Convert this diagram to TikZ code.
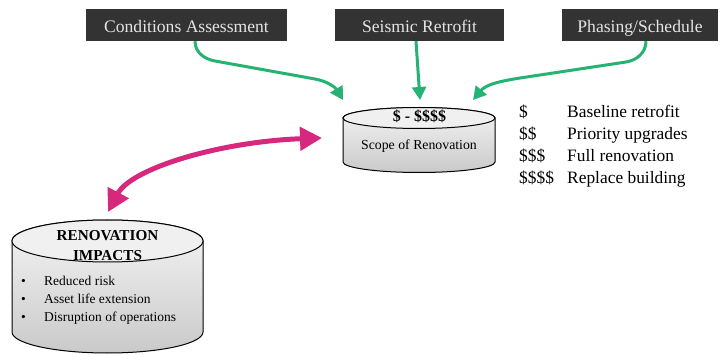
\documentclass[tikz,border=0pt]{standalone}
\usepackage{fontspec}
\setmainfont{Liberation Serif}
\usepackage{tikz}
\usetikzlibrary{arrows.meta}

\definecolor{boxgray}{RGB}{51,51,51}
\definecolor{boxtext}{RGB}{228,228,228}
\definecolor{feedgreen}{RGB}{38,178,115}
\definecolor{impactpink}{RGB}{214,40,125}

\tikzset{
  inputbox/.style={fill=boxgray, text=boxtext, inner sep=0pt,
    minimum height=32pt, text height=14.5pt, text depth=0pt,
    font=\fontsize{17.6}{20}\selectfont},
  legendtext/.style={anchor=base west, inner sep=0pt,
    font=\fontsize{17.4}{20}\selectfont},
  listtext/.style={anchor=base west, inner sep=0pt,
    font=\fontsize{13.5}{16}\selectfont},
  headtext/.style={anchor=base, inner sep=0pt,
    font=\bfseries\fontsize{15.2}{18}\selectfont},
  feedarrow/.style={-{Triangle[length=13pt,width=14pt]},
    line width=3pt, feedgreen},
  impactarrow/.style={{Triangle[length=22pt,width=23pt]}-{Triangle[length=22pt,width=23pt]},
    line width=5pt, impactpink},
  drum/.style={draw=black, line width=1pt, top color=gray!8, bottom color=gray!42}
}

\begin{document}
\begin{tikzpicture}[x=1pt,y=1pt]
  \useasboundingbox (0,0) rectangle (724,354);

  % input boxes
  \node[inputbox, minimum width=201pt] (assess) at (186.5,329) {Conditions Assessment};
  \node[inputbox, minimum width=169pt] (seismic) at (419.5,329) {Seismic Retrofit};
  \node[inputbox, minimum width=156pt] (phasing) at (640,329) {Phasing/Schedule};

  % scope drum
  \shadedraw[drum]
  (343,236) -- (343,192)
  arc[start angle=180, end angle=360, x radius=76, y radius=10.5]
  -- (495,236)
  arc[start angle=0, end angle=180, x radius=76, y radius=10.5] -- cycle;
  \filldraw[fill=gray!12, line width=1pt] (419,236) ellipse (76 and 10.5);
  \node[headtext, font=\bfseries\fontsize{16}{18}\selectfont] (scopecost) at (419.5,232) {\$ - \$\$\$\$};
  \node[anchor=base, inner sep=0pt, font=\fontsize{13.8}{16}\selectfont]
  (scope) at (419,204) {Scope of Renovation};

  % cost legend
  \node[legendtext] (cost1) at (519,236.5) {\$};
  \node[legendtext] (cost2) at (519,214.5) {\$\$};
  \node[legendtext] (cost3) at (519,192.5) {\$\$\$};
  \node[legendtext] (cost4) at (519,170.5) {\$\$\$\$};
  \node[legendtext] (tier1) at (567,236.5) {Baseline retrofit};
  \node[legendtext] (tier2) at (567,214.5) {Priority upgrades};
  \node[legendtext] (tier3) at (567,192.5) {Full renovation};
  \node[legendtext] (tier4) at (567,170.5) {Replace building};

  % impacts drum
  \shadedraw[drum]
  (12,113) -- (12,22)
  arc[start angle=180, end angle=360, x radius=95.5, y radius=21]
  -- (203,113)
  arc[start angle=0, end angle=180, x radius=95.5, y radius=21] -- cycle;
  \filldraw[fill=gray!12, line width=1pt] (107.5,113) ellipse (95.5 and 21);
  \node[headtext] (impacthead) at (107.5,113.3) {RENOVATION};
  \node[headtext] (impacthead2) at (107.5,93.3) {IMPACTS};
  \node[listtext] (risk) at (21,68) {\makebox[23pt][l]{\textbullet}Reduced risk};
  \node[listtext] (life) at (21,50.5) {\makebox[23pt][l]{\textbullet}Asset life extension};
  \node[listtext] (ops) at (21,33) {\makebox[23pt][l]{\textbullet}Disruption of operations};

  % arrow ends
  \coordinate (scopeinA) at (343,254);
  \coordinate (scopeinB) at (420,254);
  \coordinate (scopeinC) at (473,254);
  \coordinate (scopeL) at (322,216);
  \coordinate (impactsT) at (108,142);

  \draw[feedarrow] ([xshift=8.5pt]assess.south)
  to[out=-90,in=170] (215,293) -- (315,275) to[out=-10,in=121] (scopeinA);
  \draw[feedarrow] ([xshift=-3.5pt]seismic.south) -- (scopeinB);
  \draw[feedarrow] ([xshift=6pt]phasing.south)
  to[out=-90,in=9] (626,292) -- (520,276) to[out=189,in=50] (scopeinC);
  \draw[impactarrow] (impactsT) .. controls +(62:50) and +(182:100) .. (scopeL);

\end{tikzpicture}
\end{document}
